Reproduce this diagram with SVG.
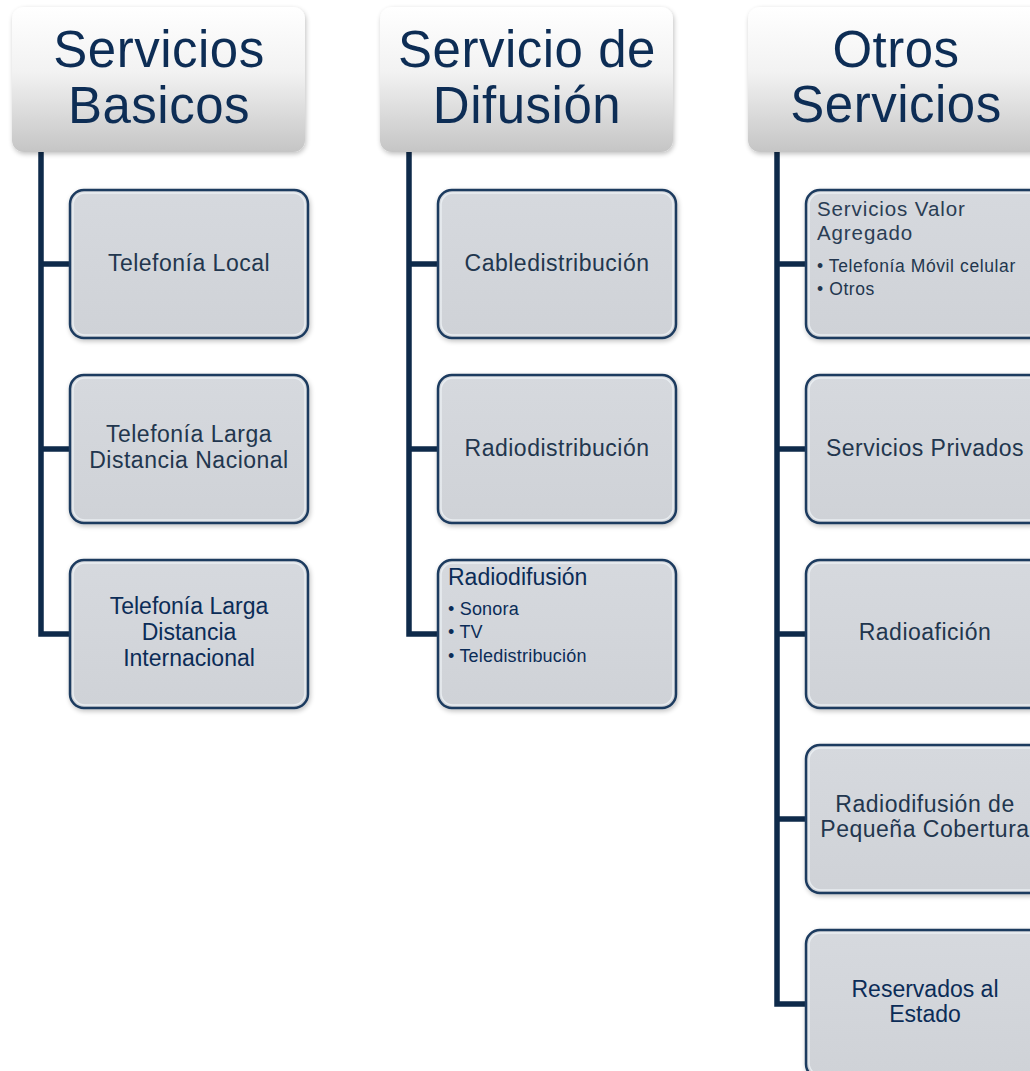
<svg xmlns="http://www.w3.org/2000/svg" width="1030" height="1071" viewBox="0 0 1030 1071">
<defs>
  <linearGradient id="hdrGrad" x1="0" y1="0" x2="0" y2="1">
    <stop offset="0" stop-color="#ffffff"/>
    <stop offset="0.45" stop-color="#f2f2f2"/>
    <stop offset="1" stop-color="#c5c5c5"/>
  </linearGradient>
  <linearGradient id="boxGrad" x1="0" y1="0" x2="0" y2="1">
    <stop offset="0" stop-color="#d6d9de"/>
    <stop offset="1" stop-color="#cfd2d7"/>
  </linearGradient>
  <filter id="shadow" x="-10%" y="-10%" width="125%" height="125%">
    <feGaussianBlur in="SourceAlpha" stdDeviation="2.5"/>
    <feOffset dx="1" dy="2" result="b"/>
    <feComponentTransfer><feFuncA type="linear" slope="0.25"/></feComponentTransfer>
    <feMerge><feMergeNode/><feMergeNode in="SourceGraphic"/></feMerge>
  </filter>
</defs>
<style>
  .hdr { fill: url(#hdrGrad); filter: url(#shadow); }
  .box { fill: url(#boxGrad); stroke: #1b3a5e; stroke-width: 2.5; filter: url(#shadow); }
  .rim { fill: none; stroke: #eef2f6; stroke-width: 1.5; opacity: 0.8; }
  .htxt { font-family: "Liberation Sans", Arial, sans-serif; font-size: 51px; fill: #0d2d55; text-anchor: middle; letter-spacing: 0.5px; }
  .t { font-family: "Liberation Sans", Arial, sans-serif; font-size: 23px; fill: #22364e; text-anchor: middle; letter-spacing: 0.5px; }
  .td { font-family: "Liberation Sans", Arial, sans-serif; font-size: 23px; fill: #0b2c57; text-anchor: middle; }
  .tl { font-family: "Liberation Sans", Arial, sans-serif; font-size: 23px; fill: #0b2c57; }
  .tlg { font-family: "Liberation Sans", Arial, sans-serif; font-size: 20.5px; fill: #2a3d54; letter-spacing: 0.9px; }
  .b { font-family: "Liberation Sans", Arial, sans-serif; font-size: 18px; fill: #0b2c57; letter-spacing: 0.2px; }
  .bg { font-family: "Liberation Sans", Arial, sans-serif; font-size: 17.5px; fill: #22364e; letter-spacing: 0.6px; }
  .conn { fill: none; stroke: #0e2a4a; stroke-width: 5.5; stroke-linejoin: miter; }
</style>

<g id="connectors">
  <path class="conn" d="M41 152 V634 H70 M41 264 H70 M41 449 H70"/>
  <path class="conn" d="M409 152 V634 H438 M409 264 H438 M409 449 H438"/>
  <path class="conn" d="M777 152 V1004 H806 M777 264 H806 M777 449 H806 M777 634 H806 M777 819 H806"/>
</g>

<g id="hdr-basicos">
  <rect class="hdr" x="12" y="7" width="293" height="145" rx="12"/>
  <text class="htxt" x="159" y="67">Servicios</text>
  <text class="htxt" x="159" y="123">Basicos</text>
</g>
<g id="hdr-difusion">
  <rect class="hdr" x="380" y="7" width="293" height="145" rx="12"/>
  <text class="htxt" x="527" y="67">Servicio de</text>
  <text class="htxt" x="527" y="123">Difusión</text>
</g>
<g id="hdr-otros">
  <rect class="hdr" x="748" y="7" width="296" height="145" rx="12"/>
  <text class="htxt" x="896" y="67">Otros</text>
  <text class="htxt" x="896" y="122">Servicios</text>
</g>

<g id="n-tel-local">
  <rect class="box" x="70" y="190" width="238" height="148" rx="14"/>
  <rect class="rim" x="73" y="193" width="232" height="142" rx="12"/>
  <text class="t" x="189" y="271">Telefonía Local</text>
</g>
<g id="n-tel-ld-nac">
  <rect class="box" x="70" y="375" width="238" height="148" rx="14"/>
  <rect class="rim" x="73" y="378" width="232" height="142" rx="12"/>
  <text class="t" x="189" y="442">Telefonía Larga</text>
  <text class="t" x="189" y="468">Distancia Nacional</text>
</g>
<g id="n-tel-ld-int">
  <rect class="box" x="70" y="560" width="238" height="148" rx="14"/>
  <rect class="rim" x="73" y="563" width="232" height="142" rx="12"/>
  <text class="td" x="189" y="614">Telefonía Larga</text>
  <text class="td" x="189" y="640">Distancia</text>
  <text class="td" x="189" y="666">Internacional</text>
</g>

<g id="n-cable">
  <rect class="box" x="438" y="190" width="238" height="148" rx="14"/>
  <rect class="rim" x="441" y="193" width="232" height="142" rx="12"/>
  <text class="t" x="557" y="271">Cabledistribución</text>
</g>
<g id="n-radiodist">
  <rect class="box" x="438" y="375" width="238" height="148" rx="14"/>
  <rect class="rim" x="441" y="378" width="232" height="142" rx="12"/>
  <text class="t" x="557" y="456">Radiodistribución</text>
</g>
<g id="n-radiodifusion">
  <rect class="box" x="438" y="560" width="238" height="148" rx="14"/>
  <rect class="rim" x="441" y="563" width="232" height="142" rx="12"/>
  <text class="tl" x="448" y="585">Radiodifusión</text>
  <text class="b" x="448" y="615">• Sonora</text>
  <text class="b" x="448" y="638">• TV</text>
  <text class="b" x="448" y="662">• Teledistribución</text>
</g>

<g id="n-valor-agregado">
  <rect class="box" x="806" y="190" width="238" height="148" rx="14"/>
  <rect class="rim" x="809" y="193" width="232" height="142" rx="12"/>
  <text class="tlg" x="817" y="216">Servicios Valor</text>
  <text class="tlg" x="817" y="240">Agregado</text>
  <text class="bg" x="817" y="272">• Telefonía Móvil celular</text>
  <text class="bg" x="817" y="295">• Otros</text>
</g>
<g id="n-privados">
  <rect class="box" x="806" y="375" width="238" height="148" rx="14"/>
  <rect class="rim" x="809" y="378" width="232" height="142" rx="12"/>
  <text class="t" x="925" y="456">Servicios Privados</text>
</g>
<g id="n-radioaficion">
  <rect class="box" x="806" y="560" width="238" height="148" rx="14"/>
  <rect class="rim" x="809" y="563" width="232" height="142" rx="12"/>
  <text class="t" x="925" y="640">Radioafición</text>
</g>
<g id="n-pequena-cobertura">
  <rect class="box" x="806" y="745" width="238" height="148" rx="14"/>
  <rect class="rim" x="809" y="748" width="232" height="142" rx="12"/>
  <text class="t" x="925" y="812">Radiodifusión de</text>
  <text class="t" x="925" y="837">Pequeña Cobertura</text>
</g>
<g id="n-reservados">
  <rect class="box" x="806" y="930" width="238" height="148" rx="14"/>
  <rect class="rim" x="809" y="933" width="232" height="142" rx="12"/>
  <text class="td" x="925" y="997">Reservados al</text>
  <text class="td" x="925" y="1022">Estado</text>
</g>
</svg>
